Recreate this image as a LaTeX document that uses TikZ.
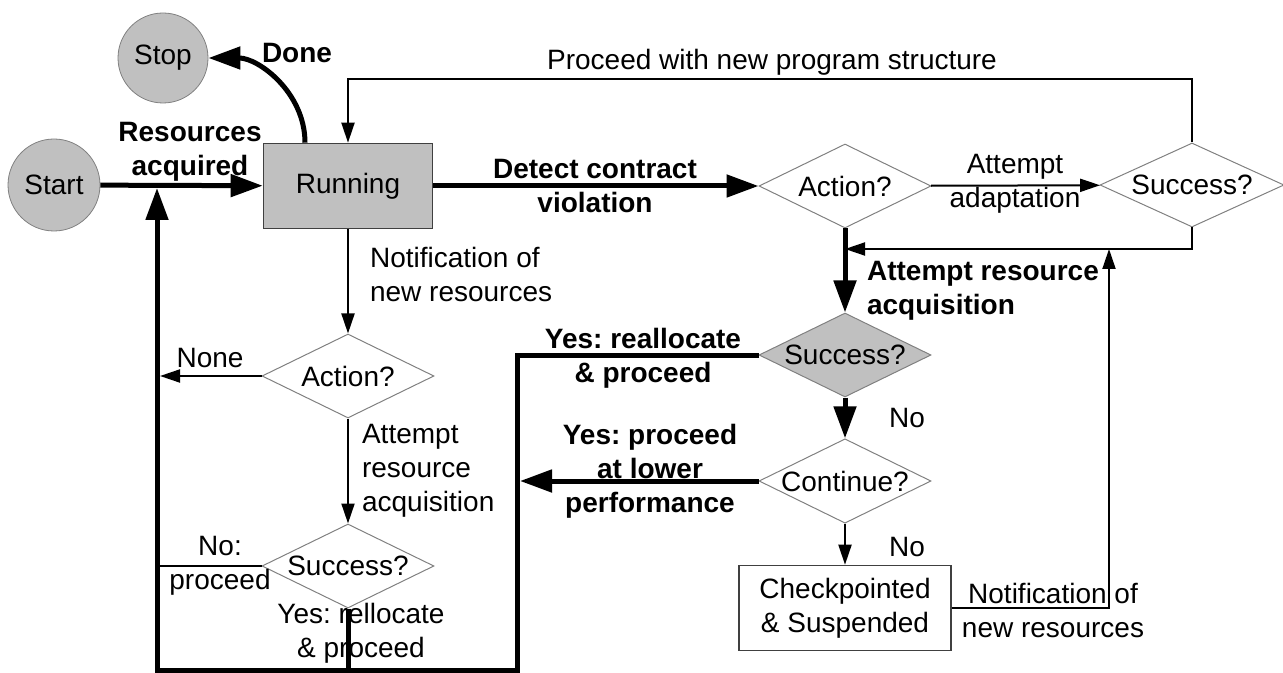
\documentclass[tikz,border=0pt]{standalone}
\usepackage{fontspec}
\setmainfont{Liberation Sans}
\usepackage{xcolor}
\definecolor{stategray}{HTML}{C0C0C0}
\definecolor{edgegray}{HTML}{808080}
\definecolor{boxrule}{HTML}{404040}
\usepackage{tikz}
\usetikzlibrary{arrows.meta,positioning,shapes.geometric}
\frenchspacing

\begin{document}
\begin{tikzpicture}[
  x=0.5pt,y=-0.5pt,
  font=\fontsize{14}{17}\selectfont,
  term/.style={circle,draw=edgegray,fill=stategray,inner sep=0pt,minimum size=45pt},
  state/.style={rectangle,draw=boxrule,line width=0.8pt,align=center,minimum height=42.5pt},
  query/.style={diamond,draw=edgegray,line width=0.5pt,inner sep=0pt,shape aspect=2,minimum width=86pt,minimum height=42pt},
  arrow/.style={-{Triangle[length=10pt,width=6.5pt]},line width=1pt},
  bigarrow/.style={-{Triangle[length=16pt,width=11pt]},line width=2.5pt},
  bigline/.style={line width=2.5pt},
  lbl/.style={align=center},
  blbl/.style={align=center,font=\fontsize{14}{17}\selectfont\bfseries}
]
\useasboundingbox (0,0) rectangle (1283,673);
\node[term] (stop) at (163,58) {Stop};
\node[term,minimum size=46pt] (start) at (54,185) {Start};
\node[state,fill=stategray,minimum width=84.5pt] (run) at (348,186) {Running};
\node[query] (act) at (845,186) {Action?};
\node[query,minimum width=92pt] (adapt) at (1192,185) {Success?};
\node[query,fill=stategray] (acq) at (845,355) {Success?};
\node[query] (cont) at (845,481) {Continue?};
\node[state,minimum width=106pt] (ckpt) at (845,608) {Checkpointed\\\& Suspended};
\node[query] (newact) at (348,376) {Action?};
\node[query] (newacq) at (348,566) {Success?};
\coordinate (merge) at (845,249);
\coordinate (notify) at (1109,249);
\coordinate (back) at (157,188);
\coordinate (botL) at (157,670);
\coordinate (botR) at (517,670);
% main loop
\draw[bigarrow] (start) -- (run);
\draw[bigarrow] ([xshift=-21.5pt]run.north) to[out=90,in=0] (stop.east);
\draw[bigarrow] (run) -- (act);
\draw[arrow] (act) -- (adapt);
\draw[arrow] (adapt.north) -- ++(0,-63) -| (run.north);
\draw[arrow] (adapt.south) |- (merge);
\draw[bigarrow] (act) -- (acq);
\draw[bigarrow] (acq) -- (cont);
\draw[arrow] (cont) -- (ckpt);
\draw[arrow] (ckpt.east) -| (notify);
\draw[bigarrow] (acq.west) -| (botR) -- (botL) -- (back);
\draw[bigarrow] (cont.west) -- ([xshift=1.5pt]cont.west -| botR);
% new resources branch
\draw[arrow] (run) -- (newact);
\draw[arrow] (newact.west) -- ([xshift=1.5pt]newact.west -| botL);
\draw[arrow] (newact) -- (newacq);
\draw[line width=1pt] (newacq.west) -- (newacq.west -| botL);
\draw[bigline] (newacq.south) -- (newacq.south |- botL);
% labels
\node[blbl] (acqlbl) at (190,152) {Resources\\acquired};
\node[blbl] (donelbl) at (297,53) {Done};
\node[lbl] (structlbl) at (772,62) {Proceed with new program structure};
\node[blbl] (detectlbl) at (595,186) {Detect contract\\violation};
\node[lbl] (adaptlbl) at (1015,184) {Attempt\\adaptation};
\node[blbl,align=left,anchor=west] (acqtrylbl) at (860,291) {Attempt resource\\acquisition};
\node[lbl] (nolbl) at (907,418) {No};
\node[blbl] (realloclbl) at (643,358) {Yes: reallocate\\\& proceed};
\node[blbl] (lowerlbl) at (650,471) {Yes: proceed\\at lower\\performance};
\node[lbl] (contnolbl) at (907,547) {No};
\node[lbl] (resumelbl) at (1053,610) {Notification of\\new resources};
\node[lbl,align=left,anchor=west] (notelbl) at (363,274) {Notification of\\new resources};
\node[lbl] (nonelbl) at (210,358) {None};
\node[lbl,align=left,anchor=west] (trylbl) at (355,471) {Attempt\\resource\\acquisition};
\node[lbl] (proceedlbl) at (220,566) {No:\\proceed};
\node[lbl] (rellocatelbl) at (361,633) {Yes: rellocate\\\& proceed};
\end{tikzpicture}
\end{document}
